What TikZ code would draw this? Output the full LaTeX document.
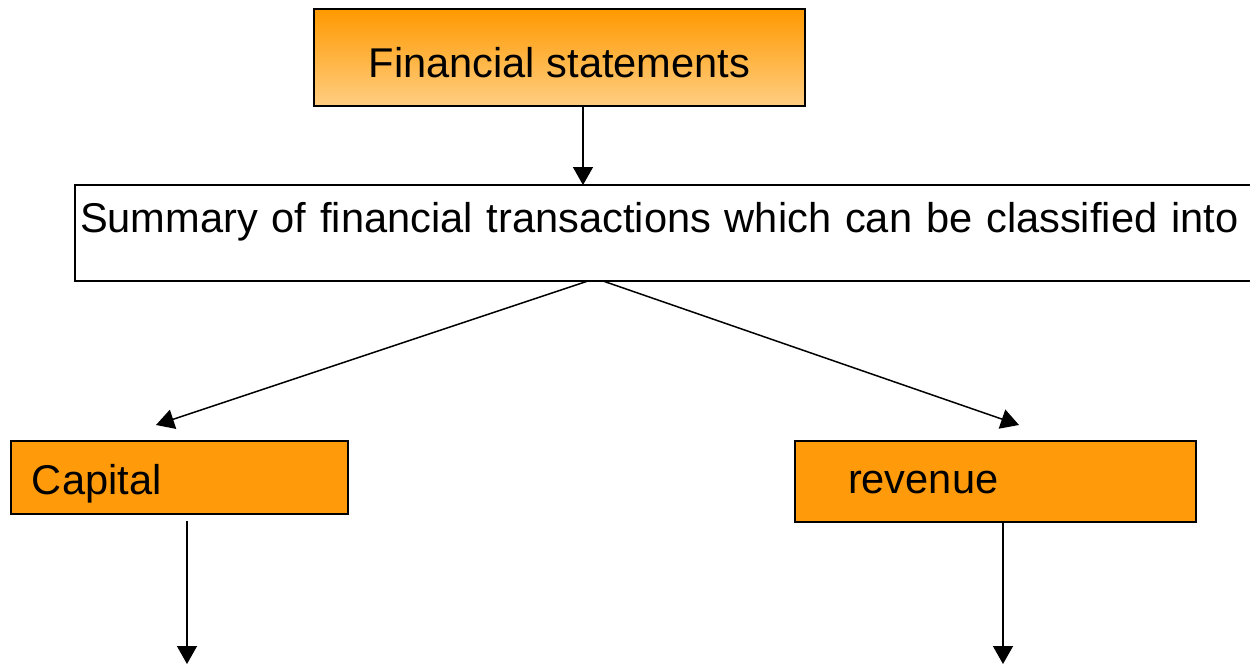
\documentclass[tikz,border=0pt]{standalone}
\usepackage{fontspec}
\setmainfont{Liberation Sans}
\usetikzlibrary{arrows.meta,calc}
\definecolor{orangeA}{RGB}{255,153,0}
\definecolor{orangeB}{RGB}{255,206,130}
\definecolor{boxorange}{RGB}{255,155,10}
\begin{document}
\begin{tikzpicture}[x=0.5pt,y=-0.5pt,
  box/.style={draw=black, line width=0.75pt, font=\fontsize{20.8}{25}\selectfont, outer sep=0pt},
  conn/.style={line width=0.75pt, -{Triangle[length=9pt,width=10pt]}}]
\useasboundingbox (0,0) rectangle (1250,664);
\clip (0,0) rectangle (1250,664);
\node[box, top color=orangeA, bottom color=orangeB, minimum width=245.5pt, minimum height=48.5pt, inner sep=0pt,
  text height=20pt, text depth=0.5pt]
  (fin) at (559.5,57.5) {Financial statements};
\node[box, fill=white, text width=592.5pt, inner xsep=2.5pt, inner ysep=0pt, minimum height=48pt, align=left,
  text height=10pt, text depth=11pt]
  (sum) at (672.5,233) {Summary of financial transactions which can be classified into};
\node[box, fill=boxorange, text width=147.5pt, inner xsep=10.5pt, inner ysep=0pt, minimum height=36.5pt, align=left,
  text height=18pt, text depth=1.2pt]
  (cap) at (179.5,477.5) {Capital};
\node[box, fill=boxorange, text width=147.5pt, inner xsep=26.5pt, inner ysep=0pt, minimum height=40.5pt, align=left,
  text height=12pt, text depth=0.2pt]
  (rev) at (995.5,481.5) {revenue};
\coordinate (fa) at ($(fin.south)+(23.5,0)$);
\draw[conn] (fa) -- (fa |- sum.north);
\coordinate (sl) at ($(sum.south west)+(513,0)$);
\coordinate (sr) at ($(sum.south west)+(528,0)$);
\coordinate (ct) at ($(cap.north)+(-23.5,-16)$);
\coordinate (rt) at ($(rev.north)+(23.5,-16)$);
\draw[conn] (sl) -- (ct);
\draw[conn] (sr) -- (rt);
\coordinate (cs) at ($(cap.south)+(7.5,7)$);
\coordinate (ce) at (187,664);
\draw[conn] (cs) -- (ce);
\coordinate (rs) at ($(rev.south)+(7.5,0)$);
\coordinate (re) at (1003,664);
\draw[conn] (rs) -- (re);
\end{tikzpicture}
\end{document}
